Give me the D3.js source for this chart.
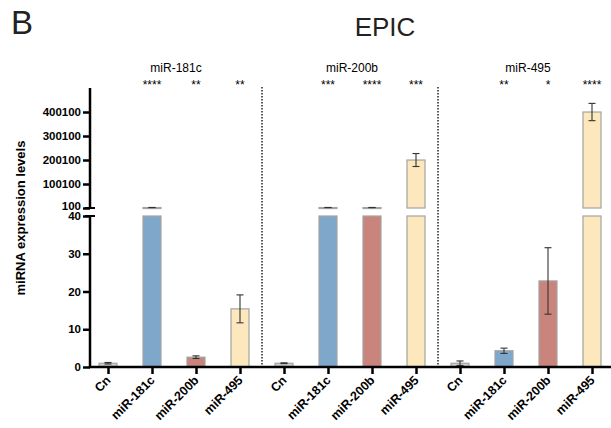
<!DOCTYPE html>
<html>
<head>
<meta charset="utf-8">
<script src="https://cdn.jsdelivr.net/npm/d3@7"></script>
<style>
  body { margin: 0; background: #fff; }
  text { font-family: "Liberation Sans", Arial, sans-serif; }
</style>
</head>
<body>
<script>
// data
var groups = ["miR-181c", "miR-200b", "miR-495"];
var treatments = ["Cn", "miR-181c", "miR-200b", "miR-495"];
var means = [
    [1.0, 2000, 2.6, 15.4],
    [1.0, 2000, 2000, 200000],
    [1.0, 4.3, 22.8, 400000]
];
var errors = [
    [0.2, 300, 0.35, 3.7],
    [0.1, 300, 300, 27000],
    [0.6, 0.7, 8.8, 36000]
];
var stars = [
    ["", "****", "**", "**"],
    ["", "***", "****", "***"],
    ["", "**", "*", "****"]
];
var lowTicks = [0, 10, 20, 30, 40];
var highTicks = [100, 100100, 200100, 300100, 400100];
var colors = ["#cdcdcd", "#7fa7ca", "#c9857c", "#fde8bd"];

var width = 611, height = 428;
var axisX = 90, baseY = 367;

var svg = d3.select("body").append("svg")
    .attr("width", width)
    .attr("height", height);

// flatten
var rows = [];
groups.forEach(function (g, gi) {
    treatments.forEach(function (t, ti) {
        rows.push({
            i: gi * 4 + ti, group: g, label: t, ti: ti,
            v: means[gi][ti], e: errors[gi][ti], star: stars[gi][ti]
        });
    });
});

//scales
var x = d3.scalePoint().domain(d3.range(rows.length)).range([108, 592]);
var yLow = d3.scaleLinear().domain([0, 40]).range([baseY, 216]);
var yHigh = d3.scaleLinear().domain([100, 500100]).range([208, 88]);
var barW = 18;

// titles
svg.append("text").attr("x", 11).attr("y", 34)
    .style("font-size", "33px").style("fill", "#222").text("B");
svg.append("text").attr("x", 385).attr("y", 36).attr("text-anchor", "middle")
    .style("font-size", "26px").style("fill", "#222").text("EPIC");

// group labels
svg.selectAll(".glabel").data(groups).enter().append("text")
    .attr("class", "glabel")
    .attr("x", function (d, i) { return (x(i * 4) + x(i * 4 + 3)) / 2 + 2; })
    .attr("y", 72)
    .attr("text-anchor", "middle")
    .style("font-size", "12px")
    .text(function (d) { return d; });

// dotted dividers
[1, 2].forEach(function (k) {
    var xd = (x(k * 4 - 1) + x(k * 4)) / 2;
    svg.append("line")
        .attr("x1", xd).attr("x2", xd)
        .attr("y1", 87).attr("y2", baseY)
        .style("stroke", "#222")
        .style("stroke-width", 1.5)
        .style("stroke-dasharray", "1.5,1.5");
});

// bars: lower part
svg.selectAll(".barLow").data(rows).enter().append("rect")
    .attr("class", "barLow")
    .attr("x", function (d) { return x(d.i) - barW / 2; })
    .attr("width", barW)
    .attr("y", function (d) { return yLow(Math.min(d.v, 40)); })
    .attr("height", function (d) { return baseY - yLow(Math.min(d.v, 40)); })
    .style("fill", function (d) { return colors[d.ti]; })
    .style("stroke", "#a3a3a3")
    .style("stroke-width", 1.2);

var big = rows.filter(function (d) { return d.v > 40; });
svg.selectAll(".barHigh").data(big).enter().append("rect")
    .attr("class", "barHigh")
    .attr("x", function (d) { return x(d.i) - barW / 2; })
    .attr("width", barW)
    .attr("y", function (d) { return yHigh(d.v); })
    .attr("height", function (d) { return Math.max(1, yHigh(100) - yHigh(d.v)); })
    .style("fill", function (d) { return colors[d.ti]; })
    .style("stroke", "#a3a3a3")
    .style("stroke-width", 1.2);

// error bars
function ys(d, v) { return d.v > 40 ? yHigh(v) : yLow(v); }
var eb = svg.selectAll(".err").data(rows).enter().append("g").attr("class", "err")
    .style("stroke", "#333").style("stroke-width", 1.1);
eb.append("line")
    .attr("x1", function (d) { return x(d.i); })
    .attr("x2", function (d) { return x(d.i); })
    .attr("y1", function (d) { return ys(d, d.v + d.e); })
    .attr("y2", function (d) { return ys(d, d.v - d.e); });
eb.append("line")
    .attr("x1", function (d) { return x(d.i) - 3.5; })
    .attr("x2", function (d) { return x(d.i) + 3.5; })
    .attr("y1", function (d) { return ys(d, d.v + d.e); })
    .attr("y2", function (d) { return ys(d, d.v + d.e); });
eb.append("line")
    .attr("x1", function (d) { return x(d.i) - 3.5; })
    .attr("x2", function (d) { return x(d.i) + 3.5; })
    .attr("y1", function (d) { return ys(d, d.v - d.e); })
    .attr("y2", function (d) { return ys(d, d.v - d.e); });

// stars
svg.selectAll(".star").data(rows.filter(function (d) { return d.star; })).enter().append("text")
    .attr("class", "star")
    .attr("x", function (d) { return x(d.i); })
    .attr("y", 89)
    .attr("text-anchor", "middle")
    .style("font-size", "12px")
    .text(function (d) { return d.star; });

// y axes
function styleAxis(g) {
    g.select(".domain").remove();
    g.selectAll(".tick line").style("stroke", "#000").style("stroke-width", 2.5);
    g.selectAll(".tick text").style("font-size", "11.5px").style("font-weight", "bold")
        .style("fill", "#000").style("font-family", "'Liberation Sans', Arial, sans-serif");
}
svg.append("g").attr("transform", "translate(" + axisX + ",0)")
    .call(d3.axisLeft(yLow).tickValues(lowTicks).tickSize(7).tickPadding(2))
    .call(styleAxis);
var hi = svg.append("g").attr("transform", "translate(" + axisX + ",0)")
    .call(d3.axisLeft(yHigh).tickValues(highTicks).tickSize(7).tickPadding(2).tickFormat(d3.format("d")))
    .call(styleAxis);
// the "100" label sits a touch higher so it clears "40"
hi.selectAll(".tick text").filter(function (d) { return d === 100; }).attr("dy", "0.1em");

svg.append("line").attr("x1", axisX).attr("x2", axisX).attr("y1", 88).attr("y2", 208)
    .style("stroke", "#000").style("stroke-width", 2.5);
svg.append("line").attr("x1", axisX).attr("x2", axisX).attr("y1", 216).attr("y2", baseY + 1)
    .style("stroke", "#000").style("stroke-width", 2.5);
// break caps
[208, 216].forEach(function (yy) {
    svg.append("line").attr("x1", axisX - 5).attr("x2", axisX + 5).attr("y1", yy).attr("y2", yy)
        .style("stroke", "#000").style("stroke-width", 2);
});

// x axis
var xAxis = svg.append("g").attr("transform", "translate(0," + baseY + ")")
    .call(d3.axisBottom(x).tickSize(7).tickFormat(function (i) { return rows[i].label; }));
xAxis.select(".domain").remove();
xAxis.selectAll(".tick line").style("stroke", "#000").style("stroke-width", 2.5);
xAxis.selectAll(".tick text")
    .attr("text-anchor", "end")
    .attr("dy", null)
    .attr("transform", "translate(3,14) rotate(-45)")
    .attr("y", 0)
    .attr("x", 0)
    .style("font-size", "12.5px").style("font-weight", "bold").style("fill", "#000")
    .style("font-family", "'Liberation Sans', Arial, sans-serif");
svg.append("line").attr("x1", axisX - 1).attr("x2", width).attr("y1", baseY).attr("y2", baseY)
    .style("stroke", "#000").style("stroke-width", 2.5);

// y label
svg.append("text")
    .attr("transform", "translate(25,218) rotate(-90)")
    .attr("text-anchor", "middle")
    .style("font-size", "13px").style("font-weight", "bold")
    .text("miRNA expression levels");
</script>
</body>
</html>
